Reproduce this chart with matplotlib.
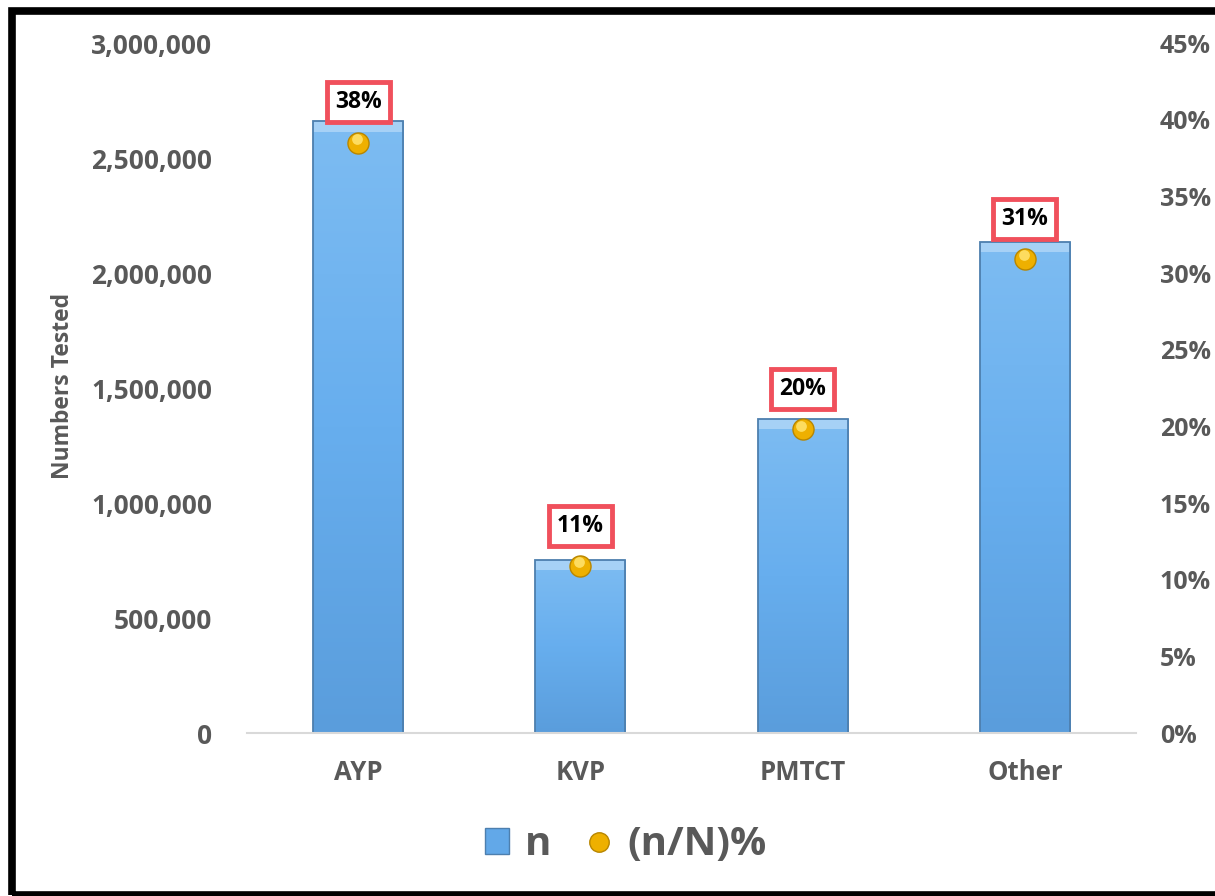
# Testing by population group: bars = numbers tested, dots = share of total
import matplotlib.pyplot as plt
import matplotlib.patches as mpatches
from matplotlib.colors import LinearSegmentedColormap
from matplotlib.lines import Line2D
from matplotlib.ticker import FuncFormatter
import numpy as np

plt.rcParams['font.family'] = ['Open Sans', 'DejaVu Sans']

# data
groups = ['AYP', 'KVP', 'PMTCT', 'Other']
n_tested = [2660000, 752000, 1365000, 2135000]
pct = [38.5, 10.9, 19.8, 30.9]
pct_labels = ['38%', '11%', '20%', '31%']

GREY = '#595959'

fig = plt.figure(figsize=(12.15, 8.96), dpi=100)
ax = fig.add_axes([0.2033, 0.1819, 0.7317, 0.770])
ax2 = ax.twinx()

x = np.arange(len(groups))
bars = ax.bar(x, n_tested, width=0.405, color='#62a8e8', linewidth=0, zorder=2)

# vertical gradient inside each bar
grad = np.linspace(0, 1, 256).reshape(-1, 1)
cmap = LinearSegmentedColormap.from_list('barblue', ['#5a9ddc', '#67aeee', '#7dbcf2'])
for b in bars:
    x0, w, h = b.get_x(), b.get_width(), b.get_height()
    im = ax.imshow(grad, cmap=cmap, aspect='auto', origin='lower',
                   extent=[x0, x0 + w, 0, h], zorder=2.1)
    im.set_clip_path(b)
    # lighter bevel at the top
    ax.add_patch(mpatches.Rectangle((x0, h - 45000), w, 45000,
                                    color='#a6d1f6', zorder=2.2, lw=0))
ax.bar(x, n_tested, width=0.405, fill=False, edgecolor='#4d7fae',
       linewidth=1.3, zorder=2.3)

ax.set_xlim(-0.5, 3.5)
ax.set_ylim(0, 3000000)
ax.set_yticks(np.arange(0, 3000001, 500000))
ax.yaxis.set_major_formatter(FuncFormatter(lambda v, p: f'{int(v):,}'))
ax.set_xticks(x)
ax.set_xticklabels(groups)
fig.text(63 / 1215, 0.569, 'Numbers Tested', rotation=90, ha='center',
         va='center', fontsize=16.5, fontweight='bold', color=GREY)

ax2.set_ylim(0, 45)
ax2.set_yticks(np.arange(0, 46, 5))
ax2.yaxis.set_major_formatter(FuncFormatter(lambda v, p: f'{int(v)}%'))

for a in (ax, ax2):
    for s in a.spines.values():
        s.set_visible(False)
    a.tick_params(length=0, colors=GREY, labelsize=19)
    for lab in a.get_xticklabels() + a.get_yticklabels():
        lab.set_fontweight('bold')
ax2.tick_params(labelsize=18)
ax.tick_params(axis='x', labelsize=18.5)
ax.tick_params(axis='y', pad=25)
ax.tick_params(axis='x', pad=19)
ax2.tick_params(axis='y', pad=17)
ax.spines['bottom'].set_visible(True)
ax.spines['bottom'].set_color('#d9d9d9')
ax.spines['bottom'].set_linewidth(1.5)

# gold dots with small highlight
ax2.scatter(x, pct, s=230, color='#eeb000', edgecolor='#b88600',
            linewidth=1, zorder=5)
ax2.scatter(x - 0.006, np.array(pct) + 0.25, s=60, color='#ffe26a',
            linewidth=0, zorder=6, alpha=0.9)

for xi, p, lab in zip(x, pct, pct_labels):
    ax2.annotate(lab, (xi, p), xytext=(0, 29), textcoords='offset points',
                 ha='center', va='center', fontsize=16.5, fontweight='bold',
                 color='black', zorder=7,
                 bbox=dict(boxstyle='square,pad=0.35', fc='white',
                           ec='#f0505c', lw=3.5))

# legend
h_bar = mpatches.Patch(facecolor='#62a8e8', edgecolor='#4d7fae')
h_dot = Line2D([], [], marker='o', ls='', markersize=14,
               markerfacecolor='#eeb000', markeredgecolor='#b88600')
leg = fig.legend([h_bar, h_dot], ['n', '(n/N)%'], loc='center',
                 bbox_to_anchor=(0.515, 0.057), ncol=2, frameon=False,
                 handlelength=0.6, handleheight=0.6, columnspacing=0.9,
                 handletextpad=0.4,
                 prop={'size': 29, 'weight': 'bold'})
for t in leg.get_texts():
    t.set_color(GREY)

# black frame around the figure
fig.patches.append(mpatches.Rectangle((0.0095, 0.0015), 1.05, 0.9860,
                                      transform=fig.transFigure, fill=False,
                                      ec='black', lw=5.5, zorder=10))

fig.savefig('out.png', dpi=100)
